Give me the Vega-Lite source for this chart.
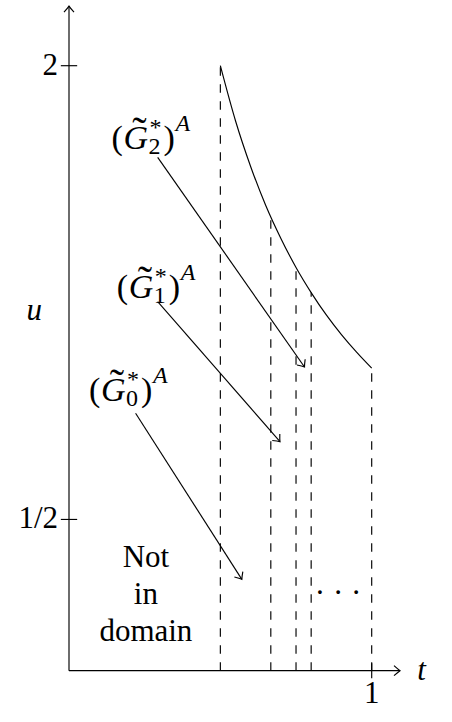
{
  "$schema": "https://vega.github.io/schema/vega-lite/v6.json",
  "width": 452,
  "height": 722,
  "autosize": "none",
  "padding": 0,
  "background": "white",
  "config": {"view": {"stroke": null}},
  "datasets": {
    "axes": [{"t": 0, "u": 0, "t2": 1.0935, "u2": 0}, {"t": 0, "u": 0, "t2": 0, "u2": 2.197}],
    "ticks": [{"t": -0.027, "u": 2, "t2": 0.027, "u2": 2}, {"t": -0.027, "u": 0.5, "t2": 0.027, "u2": 0.5}, {"t": 1, "u": -0.025, "t2": 1, "u2": 0.025}],
    "heads": [{"t": 1.0935, "u": 0, "dir": 0}, {"t": 0, "u": 2.197, "dir": 270}, {"t": 0.778, "u": 1.004, "dir": 55}, {"t": 0.697, "u": 0.757, "dir": 48.9}, {"t": 0.571, "u": 0.302, "dir": 57.4}],
    "curve": [{"t": 0.5, "u": 2}, {"t": 0.55, "u": 1.818}, {"t": 0.6, "u": 1.667}, {"t": 0.65, "u": 1.538}, {"t": 0.7, "u": 1.429}, {"t": 0.75, "u": 1.333}, {"t": 0.8, "u": 1.25}, {"t": 0.85, "u": 1.176}, {"t": 0.9, "u": 1.111}, {"t": 0.95, "u": 1.053}, {"t": 1, "u": 1}],
    "cuts": [{"t": 0.5, "u": 0, "u2": 2}, {"t": 0.6667, "u": 0, "u2": 1.5}, {"t": 0.75, "u": 0, "u2": 1.3333}, {"t": 0.8, "u": 0, "u2": 1.25}, {"t": 1, "u": 0, "u2": 1}],
    "pointers": [{"t": 0.293, "u": 1.697, "t2": 0.778, "u2": 1.004}, {"t": 0.293, "u": 1.22, "t2": 0.697, "u2": 0.757}, {"t": 0.22, "u": 0.851, "t2": 0.571, "u2": 0.302}],
    "ylabels": [{"t": -0.036, "u": 2, "text": "2"}, {"t": -0.036, "u": 0.5, "text": "1/2"}],
    "xlabels": [{"t": 1, "u": -0.078, "text": "1"}],
    "varlabels": [{"t": -0.115, "u": 1.19, "text": "u"}, {"t": 1.165, "u": 0, "text": "t"}],
    "notes": [{"t": 0.254, "u": 0.343, "text": "Not"}, {"t": 0.254, "u": 0.22, "text": "in"}, {"t": 0.254, "u": 0.097, "text": "domain"}],
    "dots": [{"t": 0.889, "u": 0.224, "text": "· · ·"}],
    "sets": [{"t": 0.14, "u": 1.725, "k": "2"}, {"t": 0.158, "u": 1.232, "k": "1"}, {"t": 0.066, "u": 0.893, "k": "0"}]
  },
  "encoding": {
    "x": {"field": "t", "type": "quantitative", "scale": {"domain": [-0.22795, 1.26528], "zero": false, "nice": false}, "axis": null},
    "y": {"field": "u", "type": "quantitative", "scale": {"domain": [-0.16959, 2.21719], "zero": false, "nice": false}, "axis": null}
  },
  "layer": [
    {"data": {"name": "axes"}, "mark": {"type": "rule", "color": "black", "strokeWidth": 1.15}, "encoding": {"x2": {"field": "t2"}, "y2": {"field": "u2"}}},
    {"data": {"name": "ticks"}, "mark": {"type": "rule", "color": "black", "strokeWidth": 1.15}, "encoding": {"x2": {"field": "t2"}, "y2": {"field": "u2"}}},
    {"data": {"name": "cuts"}, "mark": {"type": "rule", "color": "black", "strokeWidth": 1.15, "strokeDash": [8.5, 8.5]}, "encoding": {"y2": {"field": "u2"}}},
    {"data": {"name": "curve"}, "mark": {"type": "line", "color": "black", "strokeWidth": 1.15, "interpolate": "monotone"}, "encoding": {}},
    {"data": {"name": "pointers"}, "mark": {"type": "rule", "color": "black", "strokeWidth": 1.15}, "encoding": {"x2": {"field": "t2"}, "y2": {"field": "u2"}}},
    {"data": {"name": "heads"}, "mark": {"type": "point", "shape": "M-1.2,-1C-0.6,-0.45 -0.15,-0.1 0,0C-0.15,0.1 -0.6,0.45 -1.2,1", "size": 100, "filled": false, "stroke": "black", "strokeWidth": 1.15, "opacity": 1}, "encoding": {"angle": {"field": "dir", "type": "quantitative", "scale": null}}},
    {"data": {"name": "ylabels"}, "mark": {"type": "text", "font": "Liberation Serif", "color": "black", "fontSize": 31, "align": "right", "baseline": "middle"}, "encoding": {"text": {"field": "text"}}},
    {"data": {"name": "xlabels"}, "mark": {"type": "text", "font": "Liberation Serif", "color": "black", "fontSize": 31, "align": "center", "baseline": "middle"}, "encoding": {"text": {"field": "text"}}},
    {"data": {"name": "varlabels"}, "mark": {"type": "text", "font": "Liberation Serif", "color": "black", "fontSize": 31, "fontStyle": "italic", "align": "center", "baseline": "middle"}, "encoding": {"text": {"field": "text"}}},
    {"data": {"name": "notes"}, "mark": {"type": "text", "font": "Liberation Serif", "color": "black", "fontSize": 31, "align": "center", "baseline": "alphabetic"}, "encoding": {"text": {"field": "text"}}},
    {"data": {"name": "dots"}, "mark": {"type": "text", "font": "Liberation Serif", "color": "black", "fontSize": 31, "align": "center", "baseline": "alphabetic"}, "encoding": {"text": {"field": "text"}}},
    {"data": {"name": "sets"}, "mark": {"type": "text", "font": "Liberation Serif", "color": "black", "fontSize": 34, "align": "left", "baseline": "alphabetic", "text": "("}},
    {"data": {"name": "sets"}, "mark": {"type": "text", "font": "Liberation Serif", "color": "black", "fontSize": 34, "fontStyle": "italic", "align": "left", "baseline": "alphabetic", "dx": 12, "text": "G"}},
    {"data": {"name": "sets"}, "mark": {"type": "text", "font": "Liberation Serif", "color": "black", "fontSize": 43, "align": "center", "baseline": "alphabetic", "dx": 28, "dy": -3, "text": "˜"}},
    {"data": {"name": "sets"}, "mark": {"type": "text", "font": "Liberation Serif", "color": "black", "fontSize": 24, "align": "left", "baseline": "alphabetic", "dx": 38, "dy": -14, "text": "*"}},
    {"data": {"name": "sets"}, "mark": {"type": "text", "font": "Liberation Serif", "color": "black", "fontSize": 24, "align": "left", "baseline": "alphabetic", "dx": 37, "dy": 5}, "encoding": {"text": {"field": "k"}}},
    {"data": {"name": "sets"}, "mark": {"type": "text", "font": "Liberation Serif", "color": "black", "fontSize": 34, "align": "left", "baseline": "alphabetic", "dx": 52, "text": ")"}},
    {"data": {"name": "sets"}, "mark": {"type": "text", "font": "Liberation Serif", "color": "black", "fontSize": 24, "fontStyle": "italic", "align": "left", "baseline": "alphabetic", "dx": 64, "dy": -18, "text": "A"}}
  ]
}
